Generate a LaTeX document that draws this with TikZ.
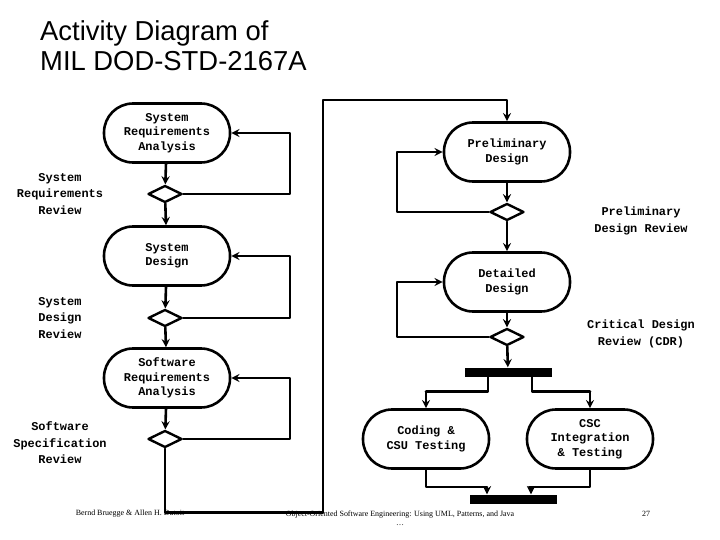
\documentclass[tikz,border=0pt]{standalone}
\usepackage{fontspec}
\setmainfont{Liberation Serif}
\newfontfamily\monofont{Liberation Mono}
\newfontfamily\titlefont{Liberation Sans}
\usetikzlibrary{shapes.geometric,arrows}
\tikzset{
  activity/.style={draw,line width=2.6pt,rounded corners=29bp,minimum width=126bp,minimum height=59bp,
    align=center,font=\monofont\bfseries\fontsize{12}{14.5}\selectfont},
  decision/.style={draw,diamond,line width=2.4pt,minimum width=34bp,minimum height=17bp,inner sep=0pt,aspect=2},
  bar/.style={fill=black,minimum width=87bp,minimum height=9bp,inner sep=0pt},
  note/.style={align=center,font=\monofont\bfseries\fontsize{12}{16.5}\selectfont},
  flow/.style={line width=2.6pt,->,>=stealth}
}
\begin{document}
\begin{tikzpicture}[x=1bp,y=-1bp,line cap=round,line join=round]
    \useasboundingbox (0,0) rectangle (720,540);
    \node[anchor=north west,align=left,inner sep=0pt,font=\titlefont\fontsize{27.5}{31}\selectfont] (title) at (40,20) {Activity Diagram of\\MIL DOD-STD-2167A};

    % left column
    \node[activity] (sra) at (167,133) {System\\Requirements\\Analysis};
    \node[decision] (srr) at (165,194) {};
    \node[activity] (sd) at (167,256) {System\\Design};
    \node[decision] (sdr) at (165,318) {};
    \node[activity] (swra) at (167,378) {Software\\Requirements\\Analysis};
    \node[decision] (ssr) at (165,439) {};

    % right column
    \node[activity] (pd) at (507,152) {Preliminary\\Design};
    \node[decision] (pdr) at (507,212) {};
    \node[activity] (dd) at (507,282) {Detailed\\Design};
    \node[decision] (cdr) at (507,337) {};
    \node[bar] (fork) at (508,372) {};
    \node[activity] (csu) at (426,439) {Coding \&\\CSU Testing};
    \node[activity] (csc) at (590,439) {CSC\\Integration\\\& Testing};
    \node[bar] (join) at (513,499) {};

    % review labels
    \node[note] at (60,194) {System\\Requirements\\Review};
    \node[note] at (60,318) {System\\Design\\Review};
    \node[note] at (60,443) {Software\\Specification\\Review};
    \node[note] at (641,221) {Preliminary\\Design Review};
    \node[note] at (641,334) {Critical Design\\Review (CDR)};

    % Edges
    \foreach \source/\target in {sra/srr, srr/sd, sd/sdr, sdr/swra, swra/ssr, pd/pdr, pdr/dd, dd/cdr, cdr/fork} {
        \draw[flow] (\source) -- (\target);
    }
    \foreach \source/\target in {srr/sra, sdr/sd, ssr/swra} {
        \draw[flow] (\source.east) -- ++(107,0) |- (\target.east);
    }
    \foreach \source/\target in {pdr/pd, cdr/dd} {
        \draw[flow] (\source.west) -- ++(-92,0) |- (\target.west);
    }
    \draw[flow] (ssr.south) -- ++(0,64) -| (323,100) -| (pd.north);
    \draw[flow] ([xshift=-20bp]fork.south) |- ++(-62,15) -| (csu.north);
    \draw[flow] ([xshift=24bp]fork.south) |- ++(58,15) -| (csc.north);
    \draw[flow] (csu.south) |- ++(61,17) -| ([xshift=-26bp]join.north);
    \draw[flow] (csc.south) |- ++(-61,17) -| ([xshift=18bp]join.north);

    % footer
    \node[font=\fontsize{8}{9}\selectfont] (author) at (130,514) {Bernd Bruegge \& Allen H. Dutoit};
    \node[font=\fontsize{8}{9}\selectfont,align=center] (book) at (400,518) {Object-Oriented Software Engineering: Using UML, Patterns, and Java\\\dots};
    \node[font=\fontsize{8}{9}\selectfont] (page) at (646,514) {27};
\end{tikzpicture}
\end{document}
